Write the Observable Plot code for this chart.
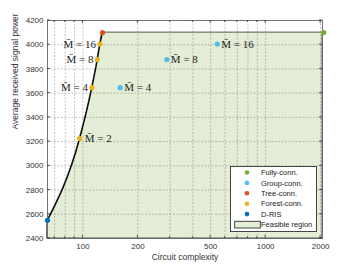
<!DOCTYPE html>
<html><head><meta charset="utf-8">
<script src="https://cdn.jsdelivr.net/npm/d3@7"></script>
<script src="https://cdn.jsdelivr.net/npm/@observablehq/plot@0.6"></script>
<style>
html,body{margin:0;padding:0;background:#fff;}
#chart{width:357px;height:268px;}
</style></head><body><div id="chart"></div>
<script>
// ---- data ----
const seriesNames = ["Fully-conn.", "Group-conn.", "Tree-conn.", "Forest-conn.", "D-RIS"];
const seriesColors = ["#77ac30", "#4dbeee", "#d95319", "#edb120", "#0072bd"];
const regionName = "Feasible region";

const drisX = [64];     const drisY = [2550];
const treeX = [128];    const treeY = [4100];
const fullyX = [2080];  const fullyY = [4100];
const forestMbar = [2, 4, 8, 16];
const forestX = [96, 112, 120, 124];
const forestY = [3225, 3645, 3878, 4005];
const groupMbar = [4, 8, 16];
const groupX = [160, 288, 544];
const groupY = [3645, 3878, 4005];

const xTicks = [100, 200, 500, 1000, 2000];
const xMinor = [70, 80, 90, 300, 400, 600, 700, 800, 900];
const yTicks = [2400, 2600, 2800, 3000, 3200, 3400, 3600, 3800, 4000, 4200];
const xDomain = [64, 2048];
const yDomain = [2400, 4200];
const xLabel = "Circuit complexity";
const yLabel = "Average received signal power";

// ---- derived tables ----
const pts = (xs, ys, extra) => xs.map((x, i) => ({x, y: ys[i], m: extra ? extra[i] : null}));
const dris = pts(drisX, drisY);
const tree = pts(treeX, treeY);
const fully = pts(fullyX, fullyY);
const forest = pts(forestX, forestY, forestMbar);
const group = pts(groupX, groupY, groupMbar);
const boundary = [...dris, ...forest, ...tree];
const region = [...boundary, {x: xDomain[1], y: treeY[0]}];
const regionFill = "#e4edd6";
const lab = d => `M\u0304 = ${d.m}`;
const serif = "Liberation Serif, DejaVu Serif, serif";

const plot = Plot.plot({
  width: 357, height: 268,
  marginLeft: 47, marginRight: 35, marginTop: 20, marginBottom: 30,
  style: {fontFamily: "Liberation Sans, Arial, sans-serif", fontSize: "8px", color: "#333", background: "#fff"},
  x: {type: "log", domain: xDomain},
  y: {domain: yDomain},
  marks: [
    Plot.areaY(region, {x: "x", y1: yDomain[0], y2: "y", curve: "monotone-x", fill: regionFill, stroke: "#444", strokeWidth: 0.9}),
    Plot.gridX([...xTicks, ...xMinor], {stroke: "#777", strokeOpacity: 0.55, strokeDasharray: "2,1.5", strokeWidth: 0.8}),
    Plot.gridY(yTicks, {stroke: "#777", strokeOpacity: 0.55, strokeDasharray: "2,1.5", strokeWidth: 0.8}),
    Plot.line(boundary, {x: "x", y: "y", curve: "monotone-x", stroke: "#000", strokeWidth: 1.2}),
    Plot.axisX({ticks: xTicks, tickFormat: d => String(d), tickSize: 0, tickPadding: 5, label: null, fontSize: 8}),
    Plot.axisY({ticks: yTicks, tickFormat: d => String(d), tickSize: 0, tickPadding: 4, label: null, fontSize: 8}),
    Plot.text([xLabel], {frameAnchor: "bottom", dy: 21, text: d => d, fontSize: 8.5, fill: "#333"}),
    Plot.text([yLabel], {frameAnchor: "left", dx: -32, rotate: -90, text: d => d, fontSize: 8.5, fill: "#333"}),
    Plot.frame({stroke: "#666", strokeWidth: 0.9}),
    Plot.dot(fully, {x: "x", y: "y", r: 2.6, fill: seriesColors[0], clip: false}),
    Plot.dot(group, {x: "x", y: "y", r: 2.6, fill: seriesColors[1]}),
    Plot.dot(tree, {x: "x", y: "y", r: 2.6, fill: seriesColors[2]}),
    Plot.dot(forest, {x: "x", y: "y", r: 2.6, fill: seriesColors[3]}),
    Plot.dot(dris, {x: "x", y: "y", r: 2.6, fill: seriesColors[4], clip: false}),
    Plot.text(forest.filter(d => d.m !== 2), {x: "x", y: "y", text: lab, textAnchor: "end", dx: -4, fontSize: 11, fontFamily: serif, fill: "#222", ariaLabel: "mlabel"}),
    Plot.text(forest.filter(d => d.m === 2), {x: "x", y: "y", text: lab, textAnchor: "start", dx: 5, fontSize: 11, fontFamily: serif, fill: "#222", ariaLabel: "mlabel"}),
    Plot.text(group, {x: "x", y: "y", text: lab, textAnchor: "start", dx: 4, fontSize: 11, fontFamily: serif, fill: "#222", ariaLabel: "mlabel"})
  ]
});
document.getElementById("chart").appendChild(plot);

// italic M-bar in labels
const svg = d3.select(plot);
svg.selectAll('g[aria-label="mlabel"] text').each(function () {
  const t = d3.select(this);
  const s = this.textContent;
  const rest = s.slice(2);
  t.text(null);
  t.append("tspan").attr("font-style", "italic").text("M\u0304");
  t.append("tspan").text(rest);
});

// inward ticks on all four sides, positioned via the plot's scales
const sx = plot.scale("x"), sy = plot.scale("y");
const [x0, x1] = xDomain.map(v => sx.apply(v));
const [y0, y1] = yDomain.map(v => sy.apply(v));
const tg = svg.append("g").attr("stroke", "#333").attr("stroke-width", 0.8);
[...xTicks, ...xMinor].forEach(v => {
  const px = sx.apply(v); const L = xTicks.includes(v) ? 3 : 2;
  tg.append("line").attr("x1", px).attr("x2", px).attr("y1", y0).attr("y2", y0 - L);
  tg.append("line").attr("x1", px).attr("x2", px).attr("y1", y1).attr("y2", y1 + L);
});
yTicks.forEach(v => {
  const py = sy.apply(v);
  tg.append("line").attr("x1", x0).attr("x2", x0 + 3).attr("y1", py).attr("y2", py);
  tg.append("line").attr("x1", x1).attr("x2", x1 - 3).attr("y1", py).attr("y2", py);
});

// legend
const lg = svg.append("g").attr("font-family", "Liberation Sans, Arial, sans-serif").attr("font-size", 7.5).attr("fill", "#222").attr("text-anchor", "start");
lg.append("rect").attr("x", 230.5).attr("y", 166.5).attr("width", 86).attr("height", 65).attr("fill", "#fff").attr("stroke", "#333").attr("stroke-width", 0.9);
seriesNames.forEach((n, i) => {
  const cy = 172.5 + i * 10.4;
  lg.append("circle").attr("cx", 247).attr("cy", cy).attr("r", 2.3).attr("fill", seriesColors[i]);
  lg.append("text").attr("x", 261).attr("y", cy).attr("dy", "0.35em").attr("text-anchor", "start").text(n);
});
lg.append("rect").attr("x", 234.7).attr("y", 221.3).attr("width", 25.6).attr("height", 6.7).attr("fill", regionFill).attr("stroke", "#333").attr("stroke-width", 0.9);
lg.append("text").attr("x", 261).attr("y", 224.7).attr("dy", "0.35em").attr("text-anchor", "start").text(regionName);
</script></body></html>
